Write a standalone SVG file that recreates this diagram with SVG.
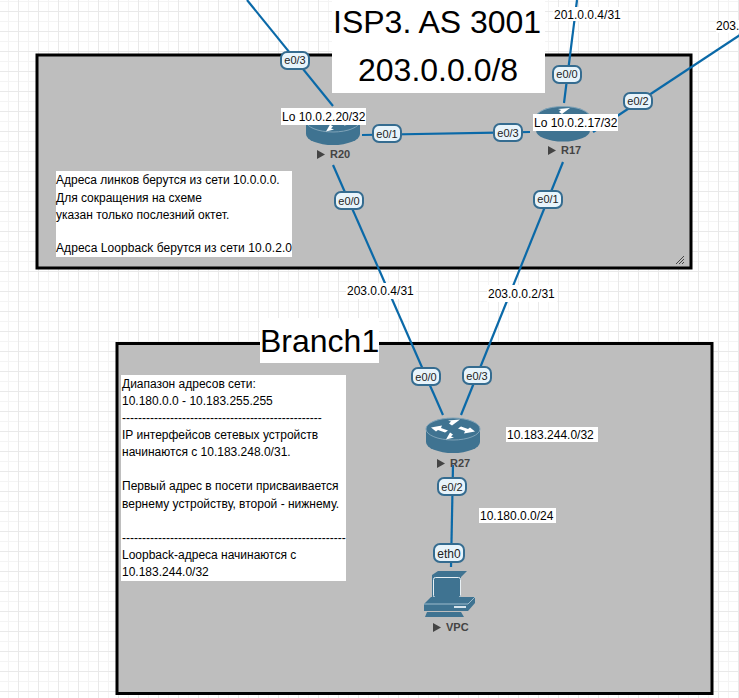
<svg xmlns="http://www.w3.org/2000/svg" xmlns:xlink="http://www.w3.org/1999/xlink" width="739" height="698" viewBox="0 0 739 698">
<style>
text{font-family:"Liberation Sans",Arial,sans-serif;fill:#000}
.area{fill:#bebebe;stroke:#000;stroke-width:3}
.white{fill:#fff}
.title{font-size:32px}
.note{font-size:12px}
.link{stroke:#0a69a8;stroke-width:2.2;fill:none}
.tab rect{fill:#e8f4fb;stroke:#356c90;stroke-width:2}
.tab text{font-size:11px;text-anchor:middle;fill:#222}
.name{font-size:11px;font-weight:bold;fill:#444}
.play{fill:#444}
.body{fill:#3f7391}
.top{fill:#3f7391;stroke:#7fa3b8;stroke-width:1}
.arr{fill:#fff}
</style>
<defs>
<pattern id="grid" width="20" height="20" patternUnits="userSpaceOnUse" x="18" y="11">
<path d="M10.500 0V20M0 10.500H20" fill="none" stroke="#f4f4f4" stroke-width="1"/>
<path d="M0.500 0V20M0 0.500H20" fill="none" stroke="#e9e9e9" stroke-width="1"/>
</pattern>
<g id="router">
<path class="body" d="M-27 -6.500V6.500A27 11 0 0 0 27 6.500V-6.500Z"/>
<ellipse class="top" cx="0" cy="-6.500" rx="27" ry="11"/>
<path class="arr" d="M-22 -8L-11 -10L-12 -7.500L-5 -5L-8 -3L-15 -5.500L-17 -4ZM22 -4L11 -2L12 -4.500L5 -7L8 -9L15 -6.500L17 -8ZM7 -16L-1 -10L-4 -12L-2 -14L-5 -15ZM-7 4L-3 -3L0 -1L-2 1L1 2L-3 3Z"/>
</g>
</defs>
<rect width="739" height="698" fill="#fff"/>
<rect width="739" height="698" fill="url(#grid)"/>

<g id="area-isp3">
<rect class="area" x="37" y="55" width="654" height="213"/>
<path d="M676 264L684 256M679 264L684 259M682 264L684 262" stroke="#444" stroke-width="1" fill="none"/>
</g>
<g id="area-branch1">
<rect class="area" x="117" y="343.500" width="595" height="350"/>
</g>

<g id="connectors">
<path class="link" d="M247 0L333 106"/>
<path class="link" d="M362 135L530 132"/>
<path class="link" d="M333 165L443 415"/>
<path class="link" d="M563 162L461 415"/>
<path class="link" d="M577 0L564 103"/>
<path class="link" d="M740 35L593 132"/>
<path class="link" d="M453 465L451 567"/>
</g>

<g id="R20">
<use xlink:href="#router" href="#router" x="333" y="127.500"/>
<path class="play" d="M317 150V159L325 154.500Z"/>
<text class="name" x="330" y="158">R20</text>
</g>
<g id="R17">
<use xlink:href="#router" href="#router" x="563" y="124"/>
<path class="play" d="M548 146V155L556 150.500Z"/>
<text class="name" x="561" y="154">R17</text>
</g>
<g id="R27">
<use xlink:href="#router" href="#router" x="453" y="435.500"/>
<path class="play" d="M437 459V468L445 463.500Z"/>
<text class="name" x="450" y="467">R27</text>
</g>
<g id="VPC">
<path class="body" d="M432 575L438 571H467L461 577V598H432Z"/>
<rect x="433.500" y="577.500" width="27" height="20" fill="#3f7391" stroke="#e8f0f4" stroke-width="1" rx="2"/>
<path class="body" d="M424 604L431 597H475V603L468 611H424Z"/>
<path d="M424 604H468L475 597" stroke="#9dbccc" stroke-width="1" fill="none"/>
<rect x="454" y="606" width="12" height="2" fill="#d6e4ec"/>
<path class="body" d="M427 612H461L464 617H425Z"/>
<path class="play" d="M433 623V632L441 627.500Z"/>
<text class="name" x="446" y="631">VPC</text>
</g>

<g id="tabs">
<g class="tab"><rect x="281" y="52" width="28" height="17" rx="6"/><text x="295" y="64">e0/3</text></g>
<g class="tab"><rect x="373" y="125" width="28" height="17" rx="6"/><text x="387" y="138">e0/1</text></g>
<g class="tab"><rect x="335" y="192" width="28" height="17" rx="6"/><text x="349" y="205">e0/0</text></g>
<g class="tab"><rect x="494" y="124" width="28" height="17" rx="6"/><text x="508" y="137">e0/3</text></g>
<g class="tab"><rect x="553" y="66" width="28" height="17" rx="6"/><text x="567" y="78">e0/0</text></g>
<g class="tab"><rect x="624" y="93" width="28" height="16" rx="6"/><text x="638" y="105">e0/2</text></g>
<g class="tab"><rect x="534" y="191" width="28" height="17" rx="6"/><text x="548" y="203">e0/1</text></g>
<g class="tab"><rect x="412" y="368" width="28" height="17" rx="6"/><text x="426" y="381">e0/0</text></g>
<g class="tab"><rect x="463" y="367" width="28" height="17" rx="6"/><text x="477" y="380">e0/3</text></g>
<g class="tab"><rect x="438" y="478" width="28" height="17" rx="6"/><text x="452" y="491">e0/2</text></g>
<g class="tab"><rect x="434" y="544" width="30" height="18" rx="6"/><text x="449" y="557.500" style="font-size:12px">eth0</text></g>
</g>

<g id="labels">
<rect class="white" x="332" y="0" width="213" height="93"/>
<text class="title" x="333" y="33">ISP3. AS 3001</text>
<text class="title" x="358" y="81">203.0.0.0/8</text>
<rect class="white" x="260" y="318" width="119" height="45"/>
<text class="title" x="260" y="352">Branch1</text>

<rect class="white" x="281" y="108" width="85" height="17"/>
<text class="note" x="282" y="121">Lo 10.0.2.20/32</text>
<rect class="white" x="533" y="114" width="85" height="17"/>
<text class="note" x="534" y="127">Lo 10.0.2.17/32</text>
<rect class="white" x="553" y="7" width="69" height="14"/>
<text class="note" x="554" y="19">201.0.0.4/31</text>
<rect class="white" x="716" y="20" width="23" height="13"/>
<text class="note" x="716" y="30">203.</text>
<rect class="white" x="346" y="283" width="70" height="16"/>
<text class="note" x="347" y="295">203.0.0.4/31</text>
<rect class="white" x="487" y="285" width="70" height="17"/>
<text class="note" x="488" y="298">203.0.0.2/31</text>
<rect class="white" x="506" y="427" width="92" height="15"/>
<text class="note" x="507" y="439">10.183.244.0/32</text>
<rect class="white" x="479" y="508" width="77" height="15"/>
<text class="note" x="480" y="520">10.180.0.0/24</text>

<rect class="white" x="56" y="171" width="236" height="86"/>
<text class="note" x="56" y="184">Адреса линков берутся из сети 10.0.0.0.</text>
<text class="note" x="56" y="202">Для сокращения на схеме</text>
<text class="note" x="56" y="219">указан только послезний октет.</text>
<text class="note" x="56" y="252" textLength="236">Адреса Loopback берутся из сети 10.0.2.0</text>

<rect class="white" x="121" y="375" width="225" height="206"/>
<text class="note" x="122" y="388">Диапазон адресов сети:</text>
<text class="note" x="122" y="405">10.180.0.0 - 10.183.255.255</text>
<text class="note" x="122" y="422">--------------------------------------------------</text>
<text class="note" x="122" y="439">IP интерфейсов сетевых устройств</text>
<text class="note" x="122" y="456">начинаются с 10.183.248.0/31.</text>
<text class="note" x="122" y="490">Первый адрес в посети присваивается</text>
<text class="note" x="122" y="508">вернему устройству, второй - нижнему.</text>
<text class="note" x="122" y="542">--------------------------------------------------------</text>
<text class="note" x="122" y="559">Loopback-адреса начинаются с</text>
<text class="note" x="122" y="576">10.183.244.0/32</text>
</g>
</svg>
